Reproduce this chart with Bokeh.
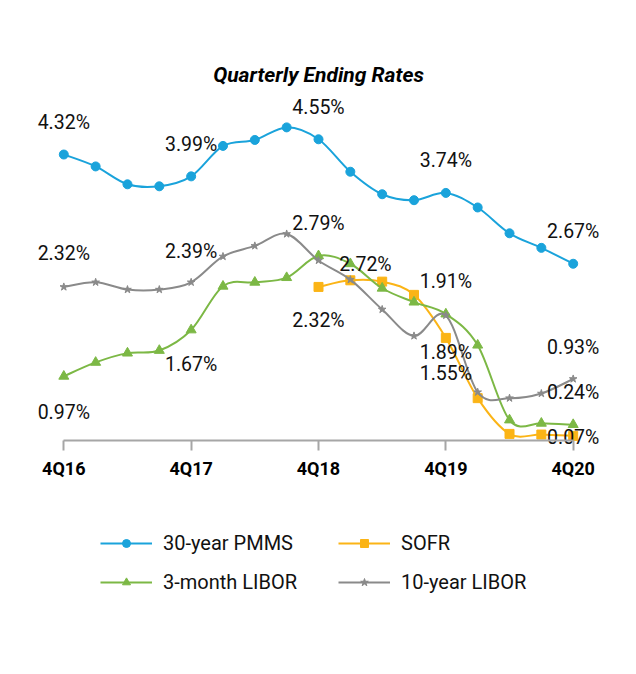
import numpy as np
from bokeh.plotting import figure
from bokeh.models import (ColumnDataSource, FixedTicker, Legend, LegendItem, Range1d, Title)
from bokeh.core.properties import value
from bokeh.embed import file_html
from bokeh.resources import INLINE

# ---------------- data ----------------
quarters = ["4Q16", "1Q17", "2Q17", "3Q17", "4Q17", "1Q18", "2Q18", "3Q18", "4Q18",
            "1Q19", "2Q19", "3Q19", "4Q19", "1Q20", "2Q20", "3Q20", "4Q20"]
pmms_30y = [4.32, 4.14, 3.87, 3.84, 3.99, 4.45, 4.54, 4.73, 4.55,
            4.06, 3.72, 3.63, 3.74, 3.52, 3.13, 2.91, 2.67]
libor_3m = [0.97, 1.18, 1.32, 1.36, 1.67, 2.33, 2.39, 2.46, 2.79,
            2.67, 2.30, 2.09, 1.91, 1.44, 0.31, 0.26, 0.24]
libor_10y = [2.32, 2.39, 2.28, 2.28, 2.39, 2.78, 2.94, 3.12, 2.72,
             2.43, 1.98, 1.58, 1.89, 0.73, 0.64, 0.71, 0.93]
sofr = [None] * 8 + [2.32, 2.42, 2.40, 2.20, 1.55, 0.64, 0.10, 0.09, 0.07]
year_end_ticks = ["4Q16", "4Q17", "4Q18", "4Q19", "4Q20"]

FONT = "Roboto"

# label placement (style): series key -> list of (quarter index, x offset px, y offset px)
label_place = {
    "pmms": [(0, 0, -32), (4, 0, -32), (8, 0, -32), (12, 0, -32), (16, 0, -32)],
    "l10": [(0, 0, -33), (4, 0, -31), (8, 47, 4), (12, 0, 37), (16, 0, -31)],
    "l3": [(0, 0, 36), (4, 0, 35), (8, 0, -32), (12, 0, -33), (16, 0, -32)],
    "sofr": [(8, 0, 34), (12, 0, 36), (16, 0, 2)],
}

series = [
    ("pmms", "30-year PMMS", pmms_30y, "#1AA3DB", "circle", 9),
    ("sofr", "SOFR", sofr, "#FBB416", "square", 9),
    ("l3", "3-month LIBOR", libor_3m, "#7CB845", "triangle", 10),
    ("l10", "10-year LIBOR", libor_10y, "#8A8A8A", "star", 8),
]

p = figure(width=636, height=674, output_backend="svg", toolbar_location=None,
           x_range=Range1d(-1.8, 17.8), y_range=Range1d(-2.779, 5.287),
           y_axis_location=None, min_border_left=6, min_border_right=6,
           min_border_top=90, min_border_bottom=50)
p.outline_line_color = None
p.xgrid.visible = False
p.ygrid.visible = False
p.title.visible = False

title = Title(text="Quarterly Ending Rates", align="center", text_font=FONT,
              text_font_style="bold italic", text_font_size="21px",
              text_color="black", standoff=8)
p.add_layout(title, "above")


def smooth_segments(xs, ys):
    x = np.asarray(xs, float)
    y = np.asarray(ys, float)
    xp = np.concatenate([[x[0]], x, [x[-1]]])
    yp = np.concatenate([[y[0]], y, [y[-1]]])
    n = len(x)
    d = dict(x0=[], y0=[], x1=[], y1=[], cx0=[], cy0=[], cx1=[], cy1=[])
    for i in range(n - 1):
        a, b, c, e = i, i + 1, i + 2, i + 3
        d["x0"].append(xp[b]); d["y0"].append(yp[b])
        d["x1"].append(xp[c]); d["y1"].append(yp[c])
        d["cx0"].append(xp[b] + (xp[c] - xp[a]) / 6); d["cy0"].append(yp[b] + (yp[c] - yp[a]) / 6)
        d["cx1"].append(xp[c] - (xp[e] - xp[b]) / 6); d["cy1"].append(yp[c] - (yp[e] - yp[b]) / 6)
    return d


items = {}
for key, name, vals, color, marker, size in series:
    idx = [i for i, v in enumerate(vals) if v is not None]
    xs = idx
    ys = [vals[i] for i in idx]
    seg = ColumnDataSource(smooth_segments(xs, ys))
    br = p.bezier(x0="x0", y0="y0", x1="x1", y1="y1", cx0="cx0", cy0="cy0",
                  cx1="cx1", cy1="cy1", source=seg, line_color=color, line_width=2)
    pts = ColumnDataSource(dict(x=xs, y=ys))
    sr = p.scatter("x", "y", source=pts, marker=marker, size=size,
                   fill_color=color, line_color=color)
    items[key] = LegendItem(label=name, renderers=[br, sr])

# data labels
for key, name, vals, color, marker, size in series:
    lx, ly, lt, ox, oy = [], [], [], [], []
    for i, dx, dy in label_place[key]:
        lx.append(i); ly.append(vals[i]); lt.append(f"{vals[i]:.2f}%")
        ox.append(dx); oy.append(dy)
    src = ColumnDataSource(dict(x=lx, y=ly, t=lt, ox=ox, oy=oy))
    p.text("x", "y", text="t", x_offset="ox", y_offset="oy", source=src,
           text_align="center", text_baseline="middle", text_font=value(FONT),
           text_font_size="19.5px", text_color="#111111")

# x axis at y = 0
ax = p.xaxis[0]
ax.fixed_location = 0
tick_pos = [quarters.index(q) for q in year_end_ticks]
ax.ticker = FixedTicker(ticks=tick_pos)
ax.major_label_overrides = {i: quarters[i] for i in tick_pos}
ax.bounds = (0, len(quarters) - 1)
ax.axis_line_color = "#A6A6A6"
ax.axis_line_width = 2
ax.major_tick_line_color = "#A6A6A6"
ax.major_tick_line_width = 2
ax.major_tick_out = 10
ax.major_tick_in = 0
ax.minor_tick_line_color = None
ax.major_label_text_font = FONT
ax.major_label_text_font_style = "bold"
ax.major_label_text_font_size = "18px"
ax.major_label_text_color = "black"
ax.major_label_standoff = 7

legend = Legend(items=[items["pmms"], items["sofr"], items["l3"], items["l10"]],
                orientation="horizontal", ncols=2, location=(94, 30),
                label_text_font=FONT, label_text_font_size="20px",
                label_text_color="#111111", glyph_width=52, glyph_height=20,
                label_standoff=11, spacing=15, label_width=160, padding=10,
                margin=0, border_line_color=None, background_fill_alpha=0)
p.add_layout(legend, "center")

open("out.html", "w").write(file_html(p, INLINE))
